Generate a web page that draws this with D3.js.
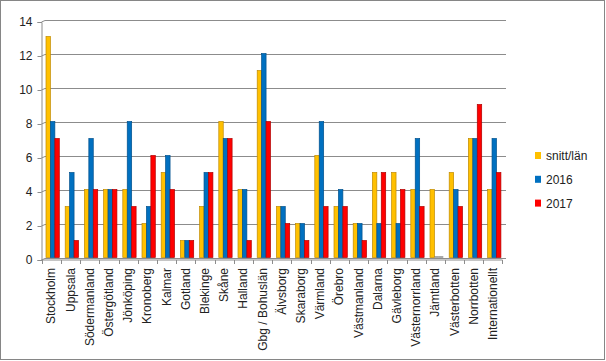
<!DOCTYPE html>
<html><head><meta charset="utf-8">
<script src="https://cdn.jsdelivr.net/npm/d3@7"></script>
<style>body{margin:0;background:#fff}svg{display:block}text{font-family:"Liberation Sans",Arial,sans-serif;fill:#222}</style>
</head><body><svg id="c" width="606" height="361"></svg>
<script>
const categories = ["Stockholm","Uppsala","Södermanland","Östergötland","Jönköping","Kronoberg","Kalmar","Gotland","Blekinge","Skåne","Halland","Gbg / Bohuslän","Älvsborg","Skaraborg","Värmland","Örebro","Västmanland","Dalarna","Gävleborg","Västernorrland","Jämtland","Västerbotten","Norrbotten","Internationellt"];
const seriesNames = ["snitt/län","2016","2017"];
const snitt = [13,3,4,4,4,2,5,1,3,8,4,11,3,2,6,3,2,5,5,4,4,5,7,4];
const y2016 = [8,5,7,4,8,3,6,1,5,7,4,12,3,2,8,4,2,2,2,7,0,4,7,7];
const y2017 = [7,1,4,4,3,6,4,1,5,7,1,8,2,1,3,3,1,5,4,3,0,3,9,5];
const yTicks = [0,2,4,6,8,10,12,14];
const colors = ["#FFC000","#0070C0","#FF0000"];
const edges = ["#C08A00","#00518C","#B00000"];

const svg = d3.select("#c");
svg.append("rect").attr("x",0.5).attr("y",0.5).attr("width",604).attr("height",359).attr("fill","#fff").attr("stroke","#868686");

const x = d3.scaleBand().domain(categories).range([41.7,502.5]);
const x1 = d3.scaleBand().domain(seriesNames).range([4.3,17.6]);
const y = d3.scaleLinear().domain([0,14]).range([257.5,19.5]);
const off = 2.5;

// gridlines (back wall)
svg.append("g").selectAll("line").data(yTicks).join("line")
  .attr("x1",45).attr("x2",506).attr("y1",d=>Math.round(y(d))+0.5).attr("y2",d=>Math.round(y(d))+0.5)
  .attr("stroke","#8c8c8c").attr("stroke-width",1);
// connectors
svg.append("g").selectAll("line").data(yTicks).join("line")
  .attr("x1",41.5).attr("x2",45).attr("y1",d=>y(d)+off).attr("y2",d=>Math.round(y(d))+0.5)
  .attr("stroke","#8c8c8c");

// left axis
const yAxis = d3.axisLeft(y).tickValues(yTicks).tickSize(4).tickPadding(5);
const gy = svg.append("g").attr("transform",`translate(41.5,${off})`).call(yAxis);
gy.select(".domain").attr("stroke","#8c8c8c");
gy.selectAll(".tick line").attr("stroke","#8c8c8c");
gy.selectAll("text").attr("font-size",12).attr("fill","#222").attr("font-family","Liberation Sans, Arial, sans-serif");

// bottom axis
const gx = svg.append("g").attr("transform",`translate(0,${y(0)+off})`);
gx.append("line").attr("x1",41.5).attr("x2",502.5).attr("y1",0).attr("y2",0).attr("stroke","#8c8c8c");
gx.selectAll(".tk").data(categories.concat(["_end"])).join("line").attr("class","tk")
  .attr("x1",(d,i)=>Math.round(x.range()[0]+i*x.step())+0.5).attr("x2",(d,i)=>Math.round(x.range()[0]+i*x.step())+0.5)
  .attr("y1",0).attr("y2",4).attr("stroke","#8c8c8c");
gx.selectAll("text").data(categories).join("text")
  .attr("transform",d=>`translate(${x(d)+x.bandwidth()/2+4},8) rotate(-90)`)
  .attr("text-anchor","end").attr("font-size",12).text(d=>d);

// bars
const series = [snitt,y2016,y2017];
series.forEach((vals,si)=>{
  svg.append("g").selectAll("rect").data(vals).join("rect")
    .attr("x",(d,i)=>x(categories[i])+x1(seriesNames[si]))
    .attr("width",x1.bandwidth())
    .attr("y",d=>Math.min(y(d), y(0)-1))
    .attr("height",d=>Math.max(1,y(0)-y(d)))
    .attr("fill",d=>d===0?"#555":colors[si]).attr("stroke",d=>d===0?"none":edges[si]).attr("stroke-width",0.7);
});

// legend
const lg = svg.append("g");
seriesNames.forEach((n,i)=>{
  const ly = 155.5 + i*23.8;
  lg.append("rect").attr("x",535).attr("y",ly-3.5).attr("width",6).attr("height",7).attr("fill",colors[i]);
  lg.append("text").attr("x",546).attr("y",ly+4.5).attr("font-size",12).text(n);
});
</script></body></html>
